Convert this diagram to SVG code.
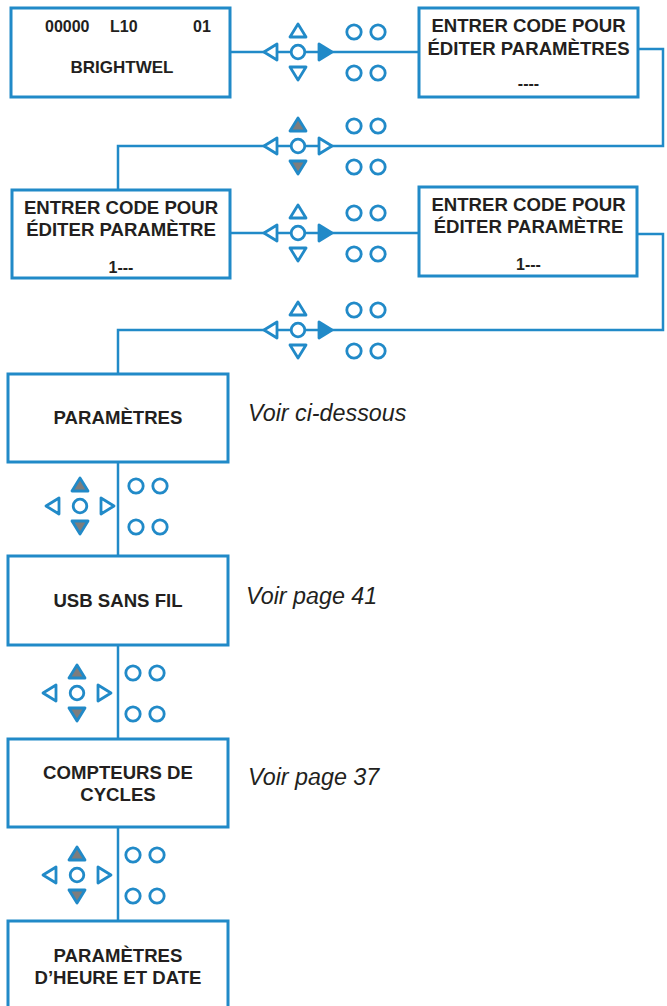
<svg xmlns="http://www.w3.org/2000/svg" xmlns:xlink="http://www.w3.org/1999/xlink" width="667" height="1006" viewBox="0 0 667 1006">
<style>
.box{fill:#fff;stroke:#218ac8;stroke-width:3}
.ln{fill:none;stroke:#218ac8;stroke-width:2.5}
.o{fill:#fff;stroke:#218ac8;stroke-width:2.8;stroke-linejoin:round}
.f{fill:#218ac8;stroke:#218ac8;stroke-width:2.8;stroke-linejoin:round}
.g{fill:#7d7d7d;stroke:#218ac8;stroke-width:2.8;stroke-linejoin:round}
.t{font-family:"Liberation Sans",Arial,sans-serif;font-weight:bold;font-size:18.6px;fill:#231f20;text-anchor:middle}
.s{font-size:16px}
.i{font-family:"Liberation Sans",Arial,sans-serif;font-style:italic;font-size:23.3px;fill:#231f20}
</style>
<defs>
<g id="oo">
<circle class="o" cx="56" cy="-20" r="7.2"/><circle class="o" cx="80" cy="-20" r="7.2"/>
<circle class="o" cx="56" cy="21" r="7.2"/><circle class="o" cx="80" cy="21" r="7.2"/>
</g>
<path id="up" d="M0,-28 L8,-15 L-8,-15 Z"/>
<path id="dn" d="M0,28 L8,15 L-8,15 Z"/>
<path id="lt" d="M-34,0 L-21,-8 L-21,8 Z"/>
<path id="rt" d="M34,0 L21,-8 L21,8 Z"/>
<circle id="ct" cx="0" cy="0" r="6.8"/>
</defs>
<g id="connectors">
<line class="ln" x1="230" y1="52" x2="419" y2="52"/>
<polyline class="ln" points="638,49 663,49 663,146 118,146 118,190"/>
<line class="ln" x1="230" y1="233" x2="419" y2="233"/>
<polyline class="ln" points="637,234 663,234 663,330 118,330 118,374"/>
<line class="ln" x1="118" y1="462" x2="118" y2="556"/>
<line class="ln" x1="118" y1="645" x2="118" y2="739"/>
<line class="ln" x1="118" y1="827" x2="118" y2="921"/>
</g>
<g id="keypad1" transform="translate(298,52)">
<use href="#up" class="o"/><use href="#dn" class="o"/><use href="#lt" class="o"/><use href="#rt" class="f"/><use href="#ct" class="o"/><use href="#oo"/>
</g>
<g id="keypad2" transform="translate(298,146)">
<use href="#up" class="g"/><use href="#dn" class="g"/><use href="#lt" class="o"/><use href="#rt" class="o"/><use href="#ct" class="o"/><use href="#oo"/>
</g>
<g id="keypad3" transform="translate(298,233)">
<use href="#up" class="o"/><use href="#dn" class="o"/><use href="#lt" class="o"/><use href="#rt" class="f"/><use href="#ct" class="o"/><use href="#oo"/>
</g>
<g id="keypad4" transform="translate(298,330)">
<use href="#up" class="o"/><use href="#dn" class="o"/><use href="#lt" class="o"/><use href="#rt" class="f"/><use href="#ct" class="o"/><use href="#oo"/>
</g>
<g id="keypad5" transform="translate(80,506)">
<use href="#up" class="g"/><use href="#dn" class="g"/><use href="#lt" class="o"/><use href="#rt" class="o"/><use href="#ct" class="o"/><use href="#oo"/>
</g>
<g id="keypad6" transform="translate(77,693)">
<use href="#up" class="g"/><use href="#dn" class="g"/><use href="#lt" class="o"/><use href="#rt" class="o"/><use href="#ct" class="o"/><use href="#oo"/>
</g>
<g id="keypad7" transform="translate(77,875)">
<use href="#up" class="g"/><use href="#dn" class="g"/><use href="#lt" class="o"/><use href="#rt" class="o"/><use href="#ct" class="o"/><use href="#oo"/>
</g>
<g id="home">
<rect class="box" x="11" y="8" width="219" height="89"/>
<text class="t s" x="45" y="32" style="text-anchor:start">00000</text>
<text class="t s" x="110" y="32" style="text-anchor:start">L10</text>
<text class="t s" x="193" y="32" style="text-anchor:start">01</text>
<text class="t" x="122" y="73" style="font-size:17px">BRIGHTWEL</text>
</g>
<g id="code1">
<rect class="box" x="419" y="8" width="219" height="89"/>
<text class="t" x="528.5" y="32">ENTRER CODE POUR</text>
<text class="t" x="528.5" y="55">ÉDITER PARAMÈTRES</text>
<text class="t" x="528.5" y="89" style="font-size:16px">----</text>
</g>
<g id="code2">
<rect class="box" x="12" y="190" width="218" height="88"/>
<text class="t" x="121" y="214">ENTRER CODE POUR</text>
<text class="t" x="121" y="236">ÉDITER PARAMÈTRE</text>
<text class="t" x="121" y="273" style="font-size:16px">1---</text>
</g>
<g id="code3">
<rect class="box" x="419" y="187" width="218" height="89"/>
<text class="t" x="528.5" y="211">ENTRER CODE POUR</text>
<text class="t" x="528.5" y="233">ÉDITER PARAMÈTRE</text>
<text class="t" x="528.5" y="270" style="font-size:16px">1---</text>
</g>
<g id="parametres">
<rect class="box" x="8" y="374" width="220" height="88"/>
<text class="t" x="118" y="424">PARAMÈTRES</text>
<text class="i" x="248" y="421">Voir ci-dessous</text>
</g>
<g id="usb">
<rect class="box" x="8" y="556" width="220" height="89"/>
<text class="t" x="118" y="607">USB SANS FIL</text>
<text class="i" x="246" y="604">Voir page 41</text>
</g>
<g id="compteurs">
<rect class="box" x="8" y="739" width="220" height="88"/>
<text class="t" x="118" y="779">COMPTEURS DE</text>
<text class="t" x="118" y="801">CYCLES</text>
<text class="i" x="248" y="785">Voir page 37</text>
</g>
<g id="heure">
<rect class="box" x="8" y="921" width="220" height="95"/>
<text class="t" x="118" y="962">PARAMÈTRES</text>
<text class="t" x="118" y="984">D’HEURE ET DATE</text>
</g>
</svg>
